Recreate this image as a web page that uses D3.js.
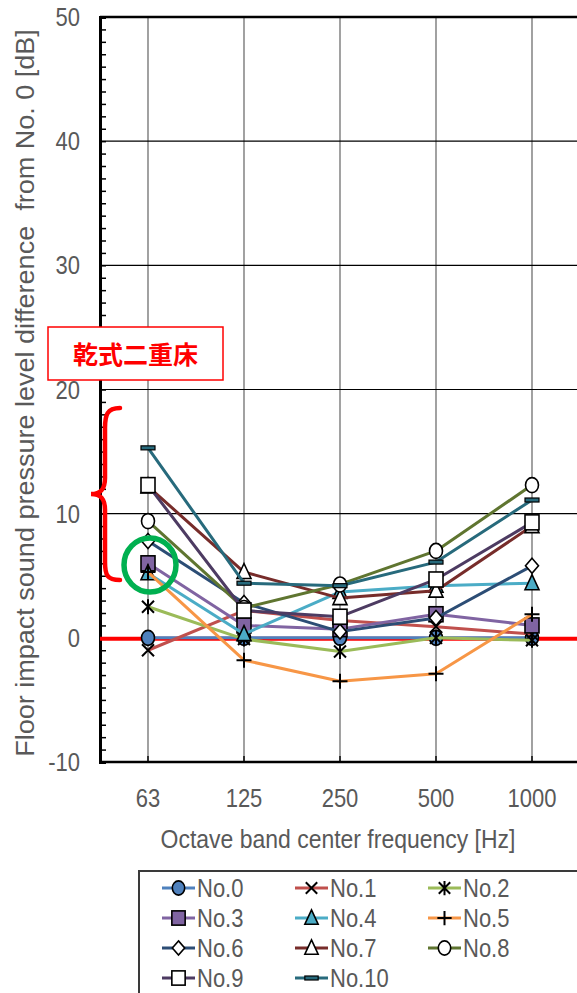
<!DOCTYPE html>
<html>
<head>
<meta charset="utf-8">
<script src="https://cdn.jsdelivr.net/npm/d3@7"></script>
<style>
  html, body { margin: 0; padding: 0; background: #fff; }
  svg { display: block; }
</style>
</head>
<body>
<svg id="chart" width="577" height="993"></svg>
<script>
// ---- data ----
const freqs = ["63", "125", "250", "500", "1000"];
const seriesNames = ["No.0", "No.1", "No.2", "No.3", "No.4", "No.5", "No.6", "No.7", "No.8", "No.9", "No.10"];
const no0  = [0.0, 0.0, 0.0, 0.0, 0.0];
const no1  = [-1.0, 2.2, 1.4, 0.9, 0.3];
const no2  = [2.5, -0.1, -1.1, 0.0, -0.2];
const no3  = [6.0, 1.0, 0.7, 1.9, 1.0];
const no4  = [5.2, 0.3, 3.7, 4.2, 4.4];
const no5  = [5.3, -1.8, -3.5, -2.9, 1.9];
const no6  = [7.8, 2.8, 0.5, 1.6, 5.8];
const no7  = [12.2, 5.3, 3.2, 3.8, 9.0];
const no8  = [9.4, 2.4, 4.3, 7.0, 12.3];
const no9  = [12.3, 2.2, 1.7, 4.7, 9.3];
const no10 = [15.3, 4.4, 4.2, 6.1, 11.1];
const seriesValues = [no0, no1, no2, no3, no4, no5, no6, no7, no8, no9, no10];
const yTicks = [-10, 0, 10, 20, 30, 40, 50];
const yTitle = "Floor impact sound pressure level difference  from No. 0 [dB]";
const xTitle = "Octave band center frequency [Hz]";
const noteText = "乾式二重床";

// ---- styles ----
const lineColors = ["#4F81BD", "#C0504D", "#9BBB59", "#8064A2", "#4BACC6", "#F79646",
                    "#2C4D75", "#772C2A", "#5F7530", "#4D3B62", "#276A7C"];
const markerKinds = ["circle", "x", "star", "square", "triangle", "plus",
                     "diamond", "triangle", "circle", "square", "dash"];
const markerFills = ["#4F81BD", "none", "none", "#8064A2", "#4BACC6", "none",
                     "#fff", "#fff", "#fff", "#fff", "#276A7C"];
const textGray = "#595959";
const FONT = "'Liberation Sans', Arial, sans-serif";
const SX = 0.88; // horizontal squeeze of the label font

const svg = d3.select("#chart");

// ---- scales ----
const x = d3.scaleBand().domain(freqs).range([100, 580]).paddingInner(0).paddingOuter(0);
const cx = d => x(d) + x.bandwidth() / 2;
const y = d3.scaleLinear().domain([-10, 50]).range([762, 17]);

// ---- grid ----
const grid = svg.append("g");
grid.selectAll("line.v").data(freqs).join("line")
  .attr("x1", cx).attr("x2", cx).attr("y1", y(50)).attr("y2", y(-10))
  .attr("stroke", "#7a7a7a").attr("stroke-width", 1.4);
grid.selectAll("line.h").data([10, 20, 30, 40]).join("line")
  .attr("x1", 100).attr("x2", 580).attr("y1", d => y(d)).attr("y2", d => y(d))
  .attr("stroke", "#000").attr("stroke-width", 1.2);
// top and bottom frame
grid.selectAll("line.f").data([50, -10]).join("line")
  .attr("x1", 100).attr("x2", 580).attr("y1", d => y(d)).attr("y2", d => y(d))
  .attr("stroke", "#000").attr("stroke-width", 2.6);

// ---- axes ----
const yAxis = svg.append("g").attr("transform", "translate(100,0)")
  .call(d3.axisLeft(y).tickValues(d3.range(-10, 51, 1)).tickSize(-6).tickFormat(""));
yAxis.select(".domain").attr("stroke", "#000").attr("stroke-width", 3);
yAxis.selectAll(".tick line").attr("stroke", "#000").attr("stroke-width", 1.5);

const xAxis = svg.append("g").attr("transform", `translate(0,${y(-10)})`)
  .call(d3.axisBottom(x).tickSize(-6).tickFormat("").tickSizeOuter(0));
xAxis.select(".domain").remove();
xAxis.selectAll(".tick line").attr("stroke", "#000").attr("stroke-width", 1.4);

function squeezed(sel, px, py, txt, size, anchor, sx) {
  return sel.append("text")
    .attr("transform", `translate(${px},${py}) scale(${sx},1)`)
    .attr("text-anchor", anchor)
    .attr("font-family", FONT)
    .attr("font-size", size)
    .attr("fill", textGray)
    .text(txt);
}

// y tick labels
const yLab = svg.append("g");
yTicks.forEach(v => squeezed(yLab, 80, y(v) + 9, v, 25, "end", SX));
// x tick labels
const xLab = svg.append("g");
freqs.forEach(f => squeezed(xLab, cx(f), 807, f, 25, "middle", SX));

// titles, fitted to their span
function fitted(sel, transform, txt, size, target) {
  const t = sel.append("text")
    .attr("text-anchor", "middle")
    .attr("font-family", FONT)
    .attr("font-size", size)
    .attr("fill", textGray)
    .style("white-space", "pre")
    .text(txt);
  const len = t.node().getComputedTextLength();
  t.attr("transform", `${transform} scale(${target / len},1)`);
  return t;
}
fitted(svg, "translate(34,393) rotate(-90)", yTitle, 25, 728);
fitted(svg, "translate(338,848)", xTitle, 25, 355);

// ---- zero reference line ----
svg.append("line")
  .attr("x1", 100).attr("x2", 580).attr("y1", y(0) + 1).attr("y2", y(0) + 1)
  .attr("stroke", "#FF0000").attr("stroke-width", 4);

// ---- markers ----
function drawMarker(g, kind, fill, color, s) {
  s = s || 1;
  const k = v => v * s;
  switch (kind) {
    case "circle":
      g.append("ellipse").attr("rx", k(6.5)).attr("ry", k(7.5))
        .attr("fill", fill).attr("stroke", "#000").attr("stroke-width", 1.6);
      break;
    case "square":
      g.append("rect").attr("x", k(-7)).attr("y", k(-7.5)).attr("width", k(14)).attr("height", k(15))
        .attr("fill", fill).attr("stroke", "#000").attr("stroke-width", 1.6);
      break;
    case "triangle":
      g.append("path").attr("d", `M0,${k(-8.5)}L${k(7)},${k(6.5)}L${k(-7)},${k(6.5)}Z`)
        .attr("fill", fill).attr("stroke", "#000").attr("stroke-width", 1.6);
      break;
    case "diamond":
      g.append("path").attr("d", `M0,${k(-7.5)}L${k(6.5)},0L0,${k(7.5)}L${k(-6.5)},0Z`)
        .attr("fill", fill).attr("stroke", "#000").attr("stroke-width", 1.6);
      break;
    case "dash":
      g.append("rect").attr("x", k(-7)).attr("y", -2).attr("width", k(14)).attr("height", 4)
        .attr("fill", fill).attr("stroke", "#000").attr("stroke-width", 1.2);
      break;
    case "x":
      g.append("path").attr("d", `M${k(-6)},${k(-6)}L${k(6)},${k(6)}M${k(-6)},${k(6)}L${k(6)},${k(-6)}`)
        .attr("stroke", "#000").attr("stroke-width", 2).attr("fill", "none");
      break;
    case "star":
      g.append("path").attr("d", `M${k(-6)},${k(-6)}L${k(6)},${k(6)}M${k(-6)},${k(6)}L${k(6)},${k(-6)}M0,${k(-7.5)}L0,${k(7.5)}`)
        .attr("stroke", "#000").attr("stroke-width", 2).attr("fill", "none");
      break;
    case "plus":
      g.append("path").attr("d", `M${k(-7.5)},0L${k(7.5)},0M0,${k(-7.5)}L0,${k(7.5)}`)
        .attr("stroke", "#000").attr("stroke-width", 2).attr("fill", "none");
      break;
  }
}

// ---- series ----
const line = d3.line().x((d, i) => cx(freqs[i])).y(d => y(d));
const plot = svg.append("g");
seriesValues.forEach((vals, si) => {
  const g = plot.append("g");
  g.append("path").datum(vals).attr("d", line)
    .attr("fill", "none").attr("stroke", lineColors[si]).attr("stroke-width", 3)
    .attr("stroke-linejoin", "round");
  vals.forEach((v, i) => {
    const m = g.append("g").attr("transform", `translate(${cx(freqs[i])},${y(v)})`);
    drawMarker(m, markerKinds[si], markerFills[si], lineColors[si]);
  });
});

// ---- annotation ----
const note = svg.append("g");
note.append("rect").attr("x", 48).attr("y", 327).attr("width", 175).attr("height", 53)
  .attr("fill", "#fff").attr("stroke", "#FF0000").attr("stroke-width", 1.5);
note.append("text").attr("x", 135.5).attr("y", 353)
  .attr("text-anchor", "middle").attr("dominant-baseline", "central")
  .attr("font-family", "'Noto Sans CJK JP', sans-serif").attr("font-weight", "bold")
  .attr("font-size", 25).attr("fill", "#FF0000").text(noteText);
note.append("path")
  .attr("d", "M120,408 C107,408 105,415 105,428 L105,478 C105,489 101,494 91,494 C101,494 105,499 105,510 L105,562 C105,575 107,580 120,580")
  .attr("fill", "none").attr("stroke", "#FF0000").attr("stroke-width", 4.5).attr("stroke-linecap", "round");
note.append("ellipse").attr("cx", 150).attr("cy", 565).attr("rx", 26).attr("ry", 27)
  .attr("fill", "none").attr("stroke", "#00B050").attr("stroke-width", 5.5);

// ---- legend ----
const legend = svg.append("g");
legend.append("rect").attr("x", 139).attr("y", 871).attr("width", 460).attr("height", 140)
  .attr("fill", "#fff").attr("stroke", "#3a3a3a").attr("stroke-width", 2);
const legCols = [162, 295, 428];
const legRows = [888, 918, 948, 978];
seriesNames.forEach((name, si) => {
  const lx = legCols[si % 3], ly = legRows[Math.floor(si / 3)];
  const g = legend.append("g");
  g.append("line").attr("x1", lx).attr("x2", lx + 33).attr("y1", ly).attr("y2", ly)
    .attr("stroke", lineColors[si]).attr("stroke-width", 3);
  const m = g.append("g").attr("transform", `translate(${lx + 16.5},${ly})`);
  drawMarker(m, markerKinds[si], markerFills[si], lineColors[si], 0.95);
  squeezed(g, lx + 35, ly + 9, name, 25, "start", SX);
});
</script>
</body>
</html>
